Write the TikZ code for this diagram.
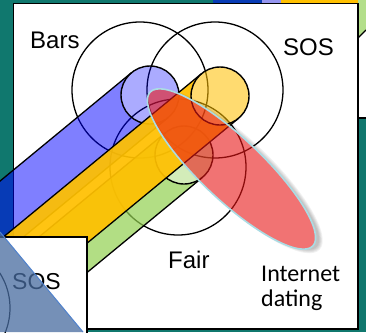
\documentclass[tikz,border=0pt]{standalone}
\usepackage{fontspec}
\setmainfont{Liberation Sans}
\newfontfamily\calib{Carlito}
\usetikzlibrary{calc}
\definecolor{teal0}{RGB}{16,120,110}
\definecolor{dblue}{RGB}{8,60,182}
\definecolor{lpurple}{RGB}{150,150,240}
\definecolor{gold}{RGB}{255,192,0}
\definecolor{pgreen}{RGB}{146,208,80}
\definecolor{lgreen}{RGB}{179,223,138}
\definecolor{redc}{RGB}{233,22,22}
\definecolor{edgecyan}{RGB}{170,220,228}
\definecolor{tri}{RGB}{72,108,160}
\definecolor{triedge}{RGB}{80,130,205}
\newcommand{\mycyl}[6]{%
  \coordinate (#1) at (#2,#3);
  \fill[#4, fill opacity=#5] ($(#1)+(230.5:29)$) -- ++(140.5:320) -- ($(#1)+(50.5:29)+(140.5:320)$) -- ($(#1)+(50.5:29)$) arc[start angle=50.5, end angle=230.5, radius=29] -- cycle;
  \draw[bandline] ($(#1)+(230.5:29)$) -- ++(140.5:320);
  \draw[bandline] ($(#1)+(50.5:29)$) -- ++(140.5:320);
  \filldraw[fill=#4, fill opacity=#6, draw=black, capline] (#1) circle[radius=29];
}
\begin{document}
\begin{tikzpicture}[x=1pt,y=-1pt,
  circ/.style={draw=black, line width=1.3pt},
  bandline/.style={draw=black, line width=1.3pt},
  capline/.style={line width=1.4pt},
  lbl/.style={inner sep=0pt, anchor=base west, font=\fontsize{24}{28}\selectfont},
  lblc/.style={inner sep=0pt, anchor=base west, font=\calib\fontsize{24}{28}\selectfont},
]
\useasboundingbox (0,0) rectangle (366,332);
\clip (0,0) rectangle (366,332);
\fill[teal0] (0,0) rectangle (366,332);
% top strips
\fill[dblue] (213,0) rectangle (262,3);
\fill[lpurple] (262,0) rectangle (281,3);
\fill[gold] (281,0) rectangle (358,3);
% right strip
\fill[lgreen] (358,0) -- (366,0) -- (366,30) -- (358,38) -- cycle;
\fill[white] (358,38) -- (366,30) -- (366,118) -- (358,118) -- cycle;
\draw[black, line width=1.2pt] (358,38) -- (366,30);
\draw[black, line width=1.2pt] (358,118) -- (366,118);
% main frame
\filldraw[fill=white, draw=black, line width=1.5pt] (13.5,3.5) rectangle (358,329);
% big circles
\draw[circ] (140,90) circle[radius=68];
\draw[circ] (215,90) circle[radius=68];
\draw[circ] (178,167) circle[radius=68];
% cylinders
\mycyl{cg}{184}{155}{pgreen}{0.7}{0.4}
\mycyl{cb}{150}{95}{blue}{0.5}{0.33}
\mycyl{cy}{220}{96}{gold}{0.93}{0.56}
% ellipse shadow
\begin{scope}[rotate around={-43.4:(231.5,169)}, even odd rule]
  \clip (-300,-300) rectangle (800,800) (231.5,169) ellipse[x radius=112, y radius=31];
  \foreach \a/\b in {110/29,111/30,112/31,113/32,114/33}{
    \fill[black, fill opacity=0.05] (237,167) ellipse[x radius=\a, y radius=\b];
  }
\end{scope}
% red ellipse
\filldraw[fill=redc, fill opacity=0.6, draw=edgecyan, line width=1.6pt, rotate around={-43.4:(231.5,169)}] (231.5,169) ellipse[x radius=112, y radius=31];
% labels
\node[lbl] (bars) at (30,48) {Bars};
\node[lbl] (sos) at (283,55) {SOS};
\node[lbl] (fair) at (168,268) {Fair};
\node[lblc] (inet) at (261,281) {Internet};
\node[lblc] (dating) at (261,306) {dating};
% lower-left panel
\filldraw[fill=white, draw=black, line width=1.5pt] (-5,237) rectangle (87,340);
\draw[black, line width=1.2pt] (-55,308) circle[radius=65];
\node[lbl, font=\fontsize{23}{27}\selectfont] (sos2) at (12,289) {SOS};
\fill[tri, fill opacity=0.75] (0,232) -- (83,332) -- (0,332) -- cycle;
\draw[triedge, line width=1pt] (0,232) -- (83,332);
\end{tikzpicture}
\end{document}
